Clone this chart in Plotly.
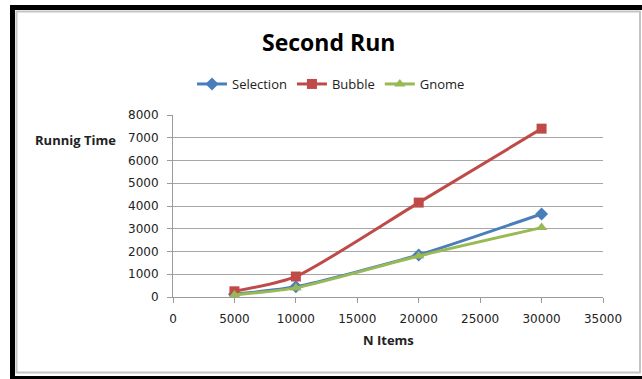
import plotly.graph_objects as go

# Running time measurements per sort algorithm
n_items = [5000, 10000, 20000, 30000]
selection = [120, 450, 1850, 3650]
bubble = [250, 900, 4150, 7400]
gnome = [90, 400, 1800, 3050]

x_ticks = [0, 5000, 10000, 15000, 20000, 25000, 30000, 35000]
y_ticks = [0, 1000, 2000, 3000, 4000, 5000, 6000, 7000, 8000]

W, H = 642, 379
L, R, T, B = 173, 603, 115, 297  # plot area in pixels


def px(x):
    return (x - L) / (R - L)


def py(y):
    return (B - y) / (B - T)


FONT = "Open Sans"
TICK_FONT = "DejaVu Sans"

fig = go.Figure()
series = [
    ("Selection", selection, "#4a7ebb", "diamond", 10),
    ("Bubble", bubble, "#be4b48", "square", 10),
    ("Gnome", gnome, "#98b954", "triangle-up", 10),
]
for name, vals, color, sym, size in series:
    fig.add_trace(go.Scatter(
        x=n_items, y=vals, name=name, mode="lines+markers",
        line=dict(color=color, width=3, shape="spline", smoothing=0.6),
        marker=dict(symbol=sym, size=size, color=color),
    ))

axis_common = dict(
    showline=True, linecolor="#9a9a9a", linewidth=1,
    ticks="outside", ticklen=5, tickcolor="#9a9a9a",
    tickfont=dict(family=TICK_FONT, size=12, color="#222"),
    zeroline=False, ticklabelstandoff=6,
)
fig.update_xaxes(range=[0, 35000], tickvals=x_ticks, ticktext=[str(v) for v in x_ticks],
                 showgrid=False, **axis_common)
fig.update_yaxes(range=[0, 8000], tickvals=y_ticks, ticktext=[str(v) for v in y_ticks],
                 showgrid=True, gridcolor="#a6a6a6", gridwidth=1, **axis_common)

shapes = [
    # outer black frame
    dict(type="rect", xref="paper", yref="paper", x0=px(10), x1=px(15), y0=py(379), y1=py(5),
         fillcolor="black", line=dict(width=0), layer="below"),
    dict(type="rect", xref="paper", yref="paper", x0=px(10), x1=px(642), y0=py(10), y1=py(5),
         fillcolor="black", line=dict(width=0), layer="below"),
    dict(type="rect", xref="paper", yref="paper", x0=px(10), x1=px(642), y0=py(379), y1=py(376),
         fillcolor="black", line=dict(width=0), layer="below"),
    # chart area border
    dict(type="rect", xref="paper", yref="paper", x0=px(16.5), x1=px(640), y0=py(372.5), y1=py(11.5),
         line=dict(color="#c4c4c4", width=2), layer="below"),
]

fig.update_layout(
    width=W, height=H,
    margin=dict(l=L, r=W - R, t=T, b=H - B),
    paper_bgcolor="white", plot_bgcolor="white",
    showlegend=True,
    legend=dict(orientation="h", x=px(331), xanchor="center", y=py(84), yanchor="middle",
                font=dict(family=FONT, size=13, color="#222"), itemwidth=30,
                tracegroupgap=0, bgcolor="rgba(0,0,0,0)"),
    shapes=shapes,
    annotations=[
        dict(text="<b>Second Run</b>", xref="paper", yref="paper", x=px(328), y=py(42),
             xanchor="center", yanchor="middle", showarrow=False,
             font=dict(family=FONT, size=23, color="black")),
        dict(text="<b>Runnig Time</b>", xref="paper", yref="paper", x=px(118), y=py(140),
             xanchor="right", yanchor="middle", showarrow=False,
             font=dict(family=FONT, size=13, color="#222")),
        dict(text="<b>N Items</b>", xref="paper", yref="paper", x=px(388), y=py(340),
             xanchor="center", yanchor="middle", showarrow=False,
             font=dict(family=FONT, size=13, color="#222")),
    ],
)

fig.write_html("out.html")
